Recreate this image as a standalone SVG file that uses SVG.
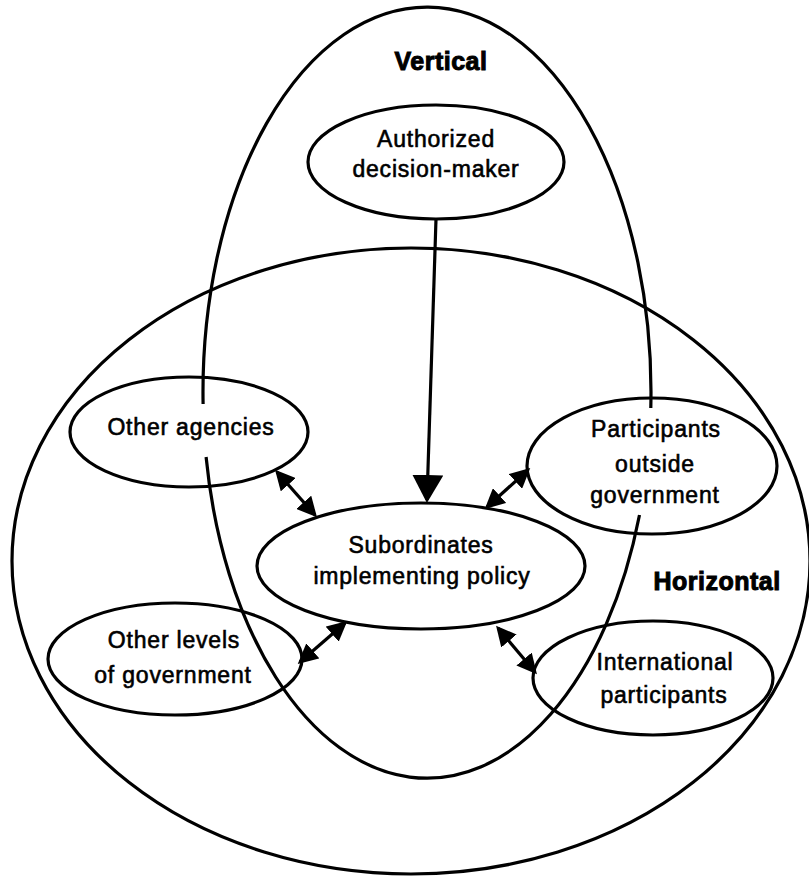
<svg xmlns="http://www.w3.org/2000/svg" width="809" height="878" viewBox="0 0 809 878">
  <style>
    .ring { fill: none; stroke: #000; stroke-width: 3.2; }
    .node { fill: none; stroke: #000; stroke-width: 3.2; }
    .lbl { font-family: "Liberation Sans", Arial, sans-serif; font-size: 23px; letter-spacing: 0.8px; fill: #000; stroke: #000; stroke-width: 0.6; text-anchor: middle; }
    .title { font-family: "Liberation Sans", Arial, sans-serif; font-size: 25px; font-weight: bold; letter-spacing: 0.5px; fill: #000; stroke: #000; stroke-width: 1; text-anchor: middle; }
    .conn { fill: none; stroke: #000; stroke-width: 3.2; }
    .dbl { marker-start: url(#ah); marker-end: url(#ah); }
  </style>
  <defs>
    <marker id="ah" viewBox="0 0 20 20" refX="17" refY="10" markerWidth="20" markerHeight="20" markerUnits="userSpaceOnUse" orient="auto-start-reverse">
      <path d="M0,0 L20,10 L0,20 Z" fill="#000"/>
    </marker>
    <marker id="big" viewBox="0 0 28 31" refX="25" refY="15.5" markerWidth="28" markerHeight="31" markerUnits="userSpaceOnUse" orient="auto">
      <path d="M0,0 L28,15.5 L0,31 Z" fill="#000"/>
    </marker>
  </defs>
  <rect width="809" height="878" fill="#fff"/>

  <g id="horizontal-region">
    <ellipse class="ring" cx="411" cy="561" rx="399" ry="313"/>
    <text class="title" x="717" y="590">Horizontal</text>
  </g>

  <g id="vertical-region">
    <path class="ring" d="M 203.1 404 A 224 385 0 1 1 650.8 408"/>
    <path class="ring" d="M 639.5 515 A 224 385 0 0 1 206.1 457"/>
    <text class="title" x="441" y="70">Vertical</text>
  </g>

  <g id="authorized-decision-maker">
    <ellipse class="node" cx="436" cy="162" rx="128" ry="57"/>
    <text class="lbl" x="436" y="147">Authorized</text>
    <text class="lbl" x="436" y="177">decision-maker</text>
  </g>

  <g id="other-agencies">
    <ellipse class="node" cx="189" cy="432" rx="119" ry="55"/>
    <text class="lbl" x="191" y="435">Other agencies</text>
  </g>

  <g id="participants-outside-government">
    <ellipse class="node" cx="652" cy="466" rx="125" ry="68"/>
    <text class="lbl" x="656" y="437">Participants</text>
    <text class="lbl" x="655" y="472">outside</text>
    <text class="lbl" x="655" y="503">government</text>
  </g>

  <g id="subordinates-implementing-policy">
    <ellipse class="node" cx="421" cy="566" rx="164" ry="63"/>
    <text class="lbl" x="421" y="553">Subordinates</text>
    <text class="lbl" x="422" y="584">implementing policy</text>
  </g>

  <g id="other-levels-of-government">
    <ellipse class="node" cx="175" cy="659" rx="127" ry="56"/>
    <text class="lbl" x="174" y="648">Other levels</text>
    <text class="lbl" x="173" y="683">of government</text>
  </g>

  <g id="international-participants">
    <ellipse class="node" cx="653" cy="678" rx="120" ry="57"/>
    <text class="lbl" x="665" y="670">International</text>
    <text class="lbl" x="664" y="703">participants</text>
  </g>

  <g id="connectors">
    <line class="conn" x1="436" y1="219" x2="427" y2="500" marker-end="url(#big)"/>
    <line class="conn dbl" x1="277" y1="472" x2="315" y2="515"/>
    <line class="conn dbl" x1="528" y1="470" x2="487" y2="507"/>
    <line class="conn dbl" x1="300" y1="662" x2="345" y2="623"/>
    <line class="conn dbl" x1="498" y1="628" x2="535" y2="672"/>
  </g>
</svg>
